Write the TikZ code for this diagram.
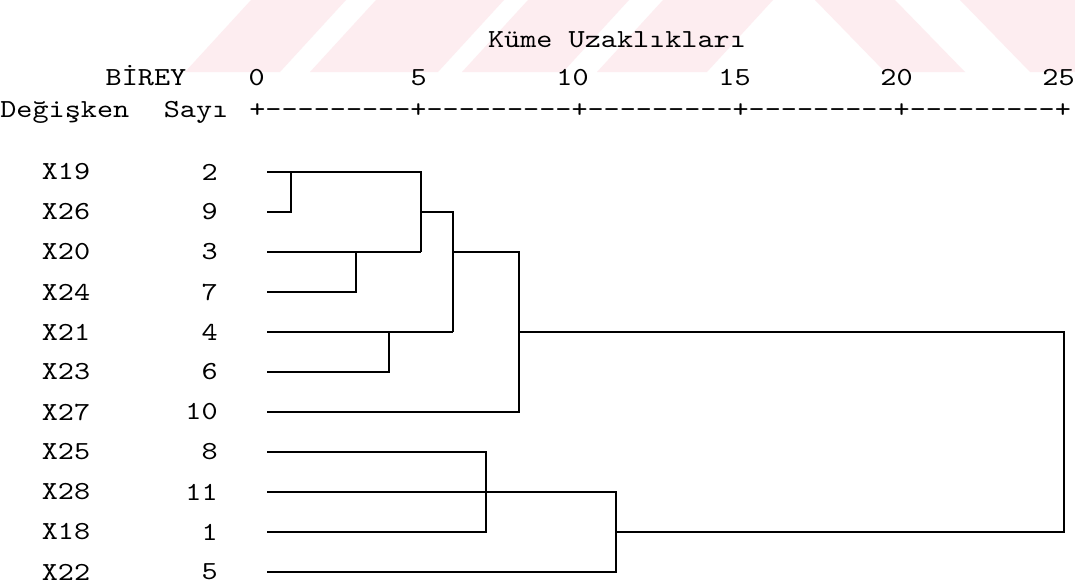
\documentclass[tikz,border=0pt]{standalone}
\usepackage{fontspec}

\definecolor{wmpink}{RGB}{253,237,240}
\newfontfamily\spssfont{lmmono10-regular.otf}[FakeStretch=1.18]
\newcommand\spss{\spssfont\fontsize{14.8}{17}\selectfont}

\tikzset{
  lbl/.style={font=\spss, inner sep=0pt},
  link/.style={line width=1.1pt},
  wm/.style={fill=wmpink},
}

\begin{document}
\begin{tikzpicture}[x=0.02cm, y=-0.02cm]
  \fill[white] (0,0) rectangle (1075,586);
  \useasboundingbox (0,0) rectangle (1075,586);

  % faint stripes at the top
  \fill[wm] (185,72) -- (280,72) -- (346,0) -- (251,0) -- cycle;
  \fill[wm] (310,72) -- (438,72) -- (504,0) -- (376,0) -- cycle;
  \fill[wm] (462,72) -- (563,72) -- (629,0) -- (528,0) -- cycle;
  \fill[wm] (597,72) -- (707,72) -- (773,0) -- (663,0) -- cycle;
  \fill[wm] (815,0) -- (895,0) -- (965,72) -- (885,72) -- cycle;
  \fill[wm] (960,0) -- (1140,0) -- (1210,72) -- (1030,72) -- cycle;

  % headings and scale
  \node[lbl, anchor=base] (title) at (617,47) {Küme Uzaklıkları};
  \node[lbl, anchor=base] (birey) at (146,85) {BİREY};
  \node[lbl, anchor=base west] (degisken) at (0,117) {Değişken};
  \node[lbl, anchor=base] (sayi) at (196,117) {Sayı};
  \node[lbl, anchor=base west] (ruler) at (249,117) {+---------+---------+---------+---------+---------+};
  \foreach \d in {0,5,...,25}
    \node[lbl, anchor=base east] (t\d) at ({265+32.4*\d},85) {\d};

  % leaves
  \foreach \v/\n [count=\i] in {19/2,26/9,20/3,24/7,21/4,23/6,27/10,25/8,28/11,18/1,22/5} {
    \node[lbl] (x\v) at (66,{132+40*\i}) {X\v};
    \node[lbl, anchor=east] (n\v) at (218,{132+40*\i}) {\n};
    \coordinate (s\v) at (267,{132+40*\i});
  }

  % merge levels
  \coordinate (m1) at (291,0);
  \coordinate (m2) at (356,0);
  \coordinate (m3) at (389,0);
  \coordinate (m4) at (421,0);
  \coordinate (m5) at (453,0);
  \coordinate (m6) at (519,0);
  \coordinate (m7) at (486,0);
  \coordinate (m8) at (616,0);
  \coordinate (m9) at (1064,0);

  % upper cluster
  \draw[link] (s19) -- (s19 -| m4) -- (s20 -| m4);
  \draw[link] (s26) -| (s19 -| m1);
  \draw[link] (s20) -- (s20 -| m4);
  \draw[link] (s24) -| (s20 -| m2);
  \draw[link] (s26 -| m4) -- (s26 -| m5) -- (s21 -| m5);
  \draw[link] (s21) -- (s21 -| m5);
  \draw[link] (s23) -| (s21 -| m3);
  \draw[link] (s20 -| m5) -- (s20 -| m6) -- (s27 -| m6) -- (s27);

  % lower cluster
  \draw[link] (s25) -| (s18 -| m7) -- (s18);
  \draw[link] (s28) -- (s28 -| m8) -- (s22 -| m8) -- (s22);

  % last join
  \draw[link] (s21 -| m6) -- (s21 -| m9) -- (s18 -| m9) -- (s18 -| m8);
\end{tikzpicture}
\end{document}
